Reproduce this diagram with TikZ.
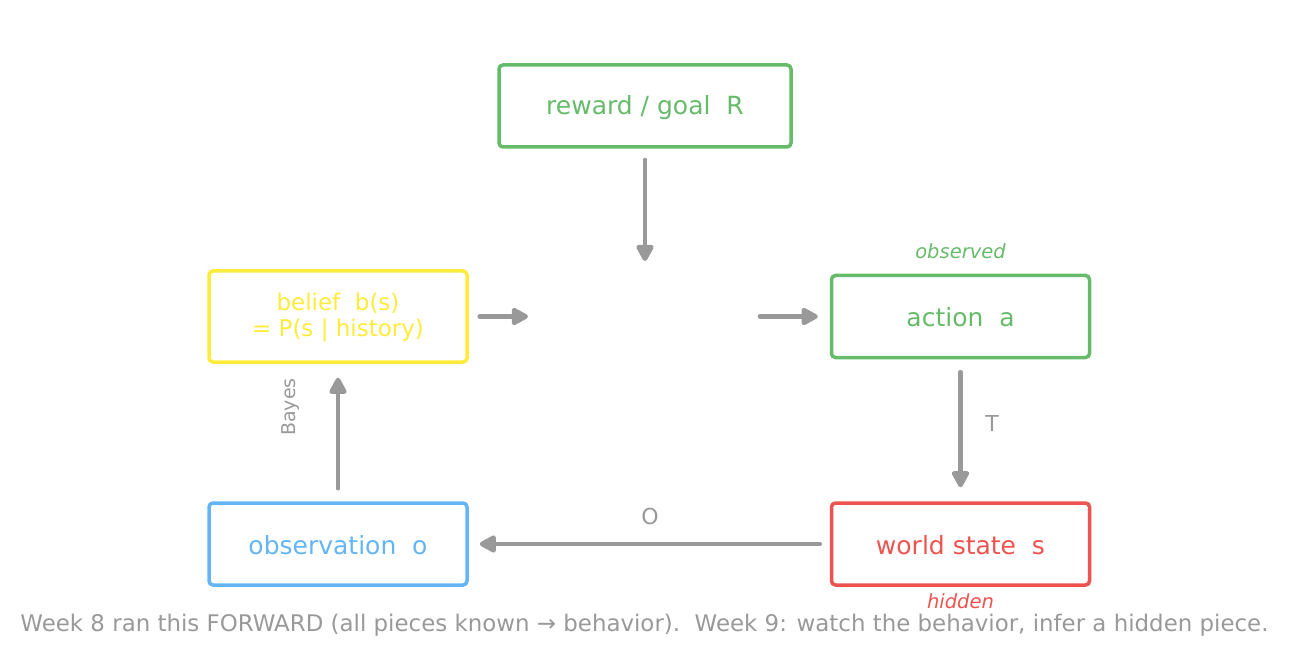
\documentclass[tikz,border=0pt]{standalone}
\usepackage{fontspec}
\setmainfont{DejaVu Sans}
\usetikzlibrary{arrows.meta}
\definecolor{cgreen}{HTML}{66BB6A}
\definecolor{cyellow}{HTML}{FFEB3B}
\definecolor{cblue}{HTML}{64B5F6}
\definecolor{cred}{HTML}{EF5350}
\definecolor{cgray}{HTML}{999999}
\tikzset{
  box/.style={draw, line width=3.5pt, rounded corners=4pt, minimum width=258pt, minimum height=82pt, inner sep=0pt, font=\fontsize{25}{26}\selectfont, align=center},
  conn/.style={cgray, line width=4.6pt, line cap=round, -{Triangle[length=19pt,width=19pt,round]}},
  lbl/.style={cgray, font=\fontsize{22}{26}\selectfont},
  note/.style={font=\fontsize{19.5}{22}\selectfont\itshape}
}
\begin{document}
\begin{tikzpicture}[x=1pt,y=-1pt]
\useasboundingbox (0,0) rectangle (1290,668);
\node[box, cgreen, minimum width=292pt] (R) at (645,106) {};
\node[box, cyellow, minimum height=91pt] (B) at (338,316.5) {};
\node[box, cgreen] (A) at (960.5,316.5) {};
\node[box, cblue] (O) at (338,544) {};
\node[box, cred] (S) at (960.5,544) {};
\node[cgreen, font=\fontsize{25}{26}\selectfont] (Rt) at (645,107.5) {reward / goal\ \ R};
\node[cyellow, font=\fontsize{23}{26}\selectfont, align=center] (Bt) at (338,317.5) {belief\ \ b(s)\\= P(s | history)};
\node[cgreen, font=\fontsize{25}{26}\selectfont] (At) at (960.5,317.5) {action\ \ a};
\node[cblue, font=\fontsize{25}{26}\selectfont] (Ot) at (338,545.5) {observation\ \ o};
\node[cred, font=\fontsize{25}{26}\selectfont] (St) at (960.5,545.5) {world state\ \ s};
\coordinate (Rend) at (645,261);
\coordinate (Bend) at (528,316.5);
\coordinate (Astart) at (760,316.5);
\node[note, cgreen] (obs) at (960.5,251) {observed};
\node[note, cred] (hid) at (960.5,601) {hidden};
\draw[conn] (645,160) -- (Rend);
\draw[conn] (B.east) ++(11,0) -- (Bend);
\draw[conn] (Astart) -- ([xshift=-12pt]A.west);
\draw[conn] ([yshift=-13pt]A.south) -- ([yshift=14pt]S.north);
\draw[conn] ([xshift=-10pt]S.west) -- ([xshift=11pt]O.east);
\draw[conn] ([yshift=13pt]O.north) -- ([yshift=-14pt]B.south);
\node[lbl] (T) at (992,423) {T};
\node[lbl] (Ol) at (650,516) {O};
\node[lbl, font=\fontsize{19}{20}\selectfont, rotate=90] (bayes) at (291,407) {Bayes};
\node[lbl, font=\fontsize{22.9}{24}\selectfont] (foot) at (644.5,625) {Week 8 ran this FORWARD (all pieces known → behavior).\ \ Week 9: watch the behavior, infer a hidden piece.};
\end{tikzpicture}
\end{document}
